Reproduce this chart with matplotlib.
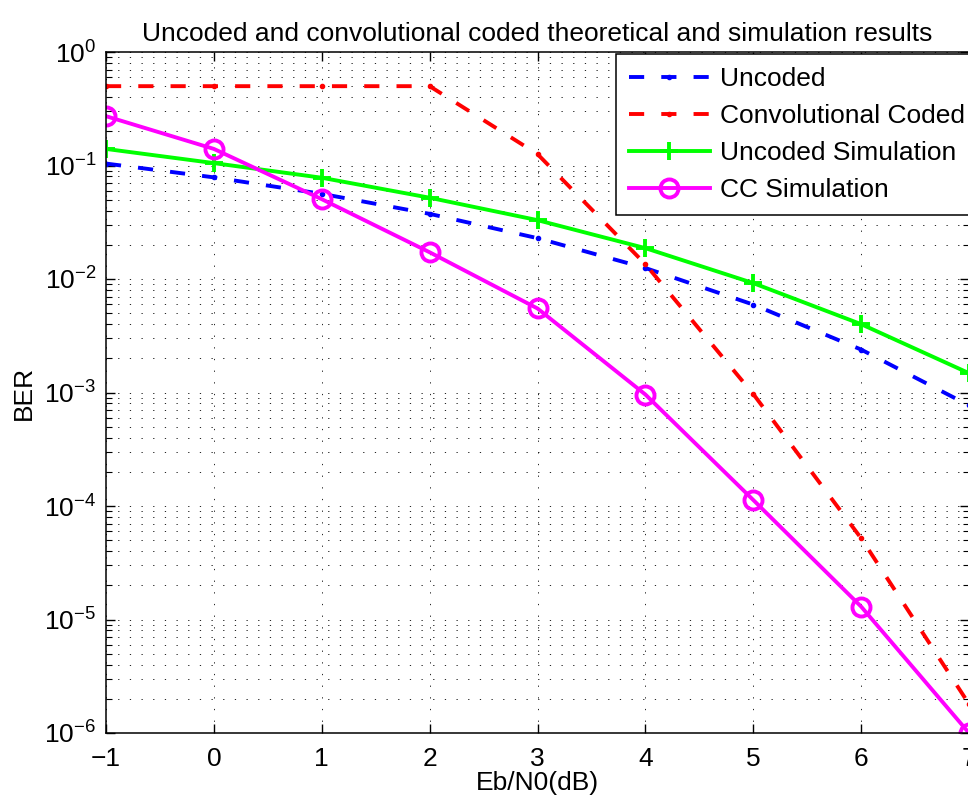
import numpy as np
import matplotlib
matplotlib.use("Agg")
import matplotlib.pyplot as plt
from matplotlib.ticker import LogLocator, NullFormatter

plt.rcParams["font.family"] = ["Liberation Sans", "DejaVu Sans"]
plt.rcParams["mathtext.fontset"] = "custom"
plt.rcParams["mathtext.rm"] = "Liberation Sans"
plt.rcParams["mathtext.it"] = "Liberation Sans:italic"
plt.rcParams["mathtext.bf"] = "Liberation Sans:bold"

# Eb/N0 points (dB)
ebn0 = [-1, 0, 1, 2, 3, 4, 5, 6, 7]

# BER curves
ber_uncoded = [0.104, 0.0786, 0.0563, 0.0375, 0.0229, 0.0125, 0.00595, 0.00239, 0.00077]
ber_cc = [0.5, 0.5, 0.5, 0.5, 0.126, 0.0135, 0.00097, 5.2e-5, 1.8e-6]
ber_uncoded_sim = [0.14, 0.105, 0.078, 0.052, 0.033, 0.0187, 0.0092, 0.0040, 0.00148]
ber_cc_sim = [0.272, 0.14, 0.0505, 0.0172, 0.0055, 0.00096, 0.000113, 1.3e-5, 1.0e-6]

labels = ["Uncoded", "Convolutional Coded", "Uncoded Simulation", "CC Simulation"]

fs = 19

fig = plt.figure(figsize=(9.68, 8.01), dpi=100)
ax = fig.add_axes([106 / 968, 1 - 733 / 801, 863 / 968, 681 / 801])

lw = 2.8
dash = (3.9, 4.4)
ax.semilogy(ebn0, ber_uncoded, color="b", ls="--", dashes=dash, lw=lw,
            marker=".", ms=6, label=labels[0], dash_capstyle="butt")
ax.semilogy(ebn0, ber_cc, color="r", ls="--", dashes=dash, lw=lw,
            marker=".", ms=6, label=labels[1], dash_capstyle="butt")
ax.semilogy(ebn0, ber_uncoded_sim, color=(0, 1, 0), ls="-", lw=lw,
            marker="+", ms=13, mew=lw, label=labels[2])
ax.semilogy(ebn0, ber_cc_sim, color=(1, 0, 1), ls="-", lw=lw,
            marker="o", ms=13, mew=lw, mfc="none", label=labels[3])

ax.set_xlim(-1, 7)
ax.set_ylim(1e-6, 1)
ax.set_xticks(ebn0)
ax.yaxis.set_major_locator(LogLocator(base=10, numticks=10))
ax.yaxis.set_minor_locator(LogLocator(base=10, subs=np.arange(2, 10), numticks=20))
ax.yaxis.set_minor_formatter(NullFormatter())

grid_ls = (0, (1.5, 12.5))
ax.grid(True, which="major", axis="both", color="k", lw=0.6, ls=grid_ls)
ax.grid(True, which="minor", axis="y", color="k", lw=0.6, ls=grid_ls)

ax.tick_params(which="both", direction="in", top=True, right=True,
               labelsize=fs)
ax.tick_params(axis="x", pad=10)
ax.tick_params(axis="y", pad=7)
ax.tick_params(which="major", length=6.5, width=1)
ax.tick_params(which="minor", length=4, width=0.8)
for s in ax.spines.values():
    s.set_linewidth(1.1)

ax.set_title("Uncoded and convolutional coded theoretical and simulation results",
             fontsize=fs, pad=8)
ax.set_xlabel("Eb/N0(dB)", fontsize=fs, labelpad=0)
ax.set_ylabel("BER", fontsize=fs, labelpad=6)

leg = ax.legend(loc="upper left", bbox_to_anchor=(616 / 968, 1 - 54 / 801),
                bbox_transform=fig.transFigure, borderaxespad=0,
                fontsize=fs, handlelength=3.05, handletextpad=0.38,
                labelspacing=0.49, fancybox=False, framealpha=1,
                edgecolor="k", borderpad=0.5)
leg.get_frame().set_linewidth(1.1)

fig.savefig("out.png", dpi=100)
